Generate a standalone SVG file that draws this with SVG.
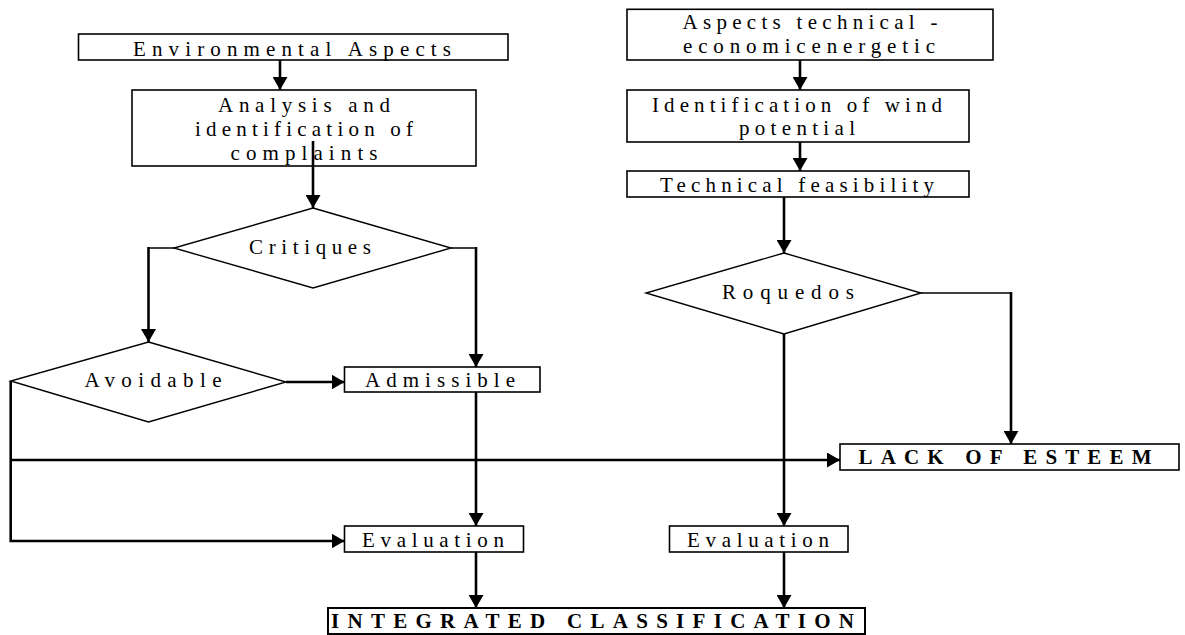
<svg xmlns="http://www.w3.org/2000/svg" width="1185" height="635" viewBox="0 0 1185 635">
<style>
.box{fill:#fff;stroke:#000;stroke-width:1.6}
.dia{fill:#fff;stroke:#000;stroke-width:1.4}
.t{font-family:'Liberation Serif','Times New Roman','DejaVu Serif',serif;font-size:21px;fill:#000;text-anchor:middle}
.b{font-weight:bold}
.c{fill:none;stroke:#000;stroke-width:2.6}
.thin{fill:none;stroke:#000;stroke-width:1.5}
</style>
<defs>
<marker id="ah" markerUnits="userSpaceOnUse" markerWidth="15" markerHeight="15" refX="13" refY="7.5" orient="auto">
<path d="M0,0 L13,7.5 L0,15 z" fill="#000"/>
</marker>
</defs>
<rect width="1185" height="635" fill="#fff"/>

<g id="connectors">
<line class="c" x1="280" y1="60" x2="280" y2="90" marker-end="url(#ah)"/>
<line class="c" x1="313" y1="141" x2="313" y2="208" marker-end="url(#ah)"/>
<polyline class="thin" points="174,248 148.5,248"/>
<line class="c" x1="148.5" y1="247" x2="148.5" y2="342" marker-end="url(#ah)"/>
<polyline class="thin" points="451,248 476,248"/>
<line class="c" x1="476" y1="247" x2="476" y2="367" marker-end="url(#ah)"/>
<line class="c" x1="286" y1="382" x2="344.5" y2="382" marker-end="url(#ah)"/>
<line class="c" x1="476" y1="392" x2="476" y2="526" marker-end="url(#ah)"/>
<line class="c" x1="10.7" y1="460" x2="840" y2="460" marker-end="url(#ah)"/>
<polyline class="c" points="10.7,381 10.7,541 344.5,541" marker-end="url(#ah)"/>
<line class="c" x1="476" y1="552" x2="476" y2="608" marker-end="url(#ah)"/>
<line class="c" x1="800" y1="60" x2="800" y2="90" marker-end="url(#ah)"/>
<line class="c" x1="800" y1="142" x2="800" y2="171" marker-end="url(#ah)"/>
<line class="c" x1="784" y1="197" x2="784" y2="253" marker-end="url(#ah)"/>
<polyline class="thin" points="921,293 1011,293"/>
<line class="c" x1="1011" y1="292" x2="1011" y2="444" marker-end="url(#ah)"/>
<line class="c" x1="784" y1="334" x2="784" y2="526" marker-end="url(#ah)"/>
<line class="c" x1="784" y1="552" x2="784" y2="608" marker-end="url(#ah)"/>
</g>

<g id="env">
<rect class="box" x="78.5" y="34" width="429.5" height="26"/>
<text class="t" x="292" y="56" textLength="318" lengthAdjust="spacing">Environmental Aspects</text>
</g>
<g id="analysis">
<rect class="box" x="132" y="90" width="344" height="76"/>
<text class="t" x="304" y="112" textLength="172" lengthAdjust="spacing">Analysis and</text>
<text class="t" x="304" y="136" textLength="218" lengthAdjust="spacing">identification of</text>
<text class="t" x="304" y="160" textLength="147" lengthAdjust="spacing">complaints</text>
</g>
<line class="c" x1="313" y1="141" x2="313" y2="166"/>
<g id="critiques">
<polygon class="dia" points="313,208 451,248 313,288 174,248"/>
<text class="t" x="310" y="254" textLength="122" lengthAdjust="spacing">Critiques</text>
</g>
<g id="avoidable">
<polygon class="dia" points="148.5,342 286,382 148.5,422 10.7,381"/>
<text class="t" x="153" y="387" textLength="137" lengthAdjust="spacing">Avoidable</text>
</g>
<g id="admissible">
<rect class="box" x="344.5" y="367" width="195.5" height="25"/>
<text class="t" x="440" y="387" textLength="150" lengthAdjust="spacing">Admissible</text>
</g>
<g id="evaluation1">
<rect class="box" x="344.5" y="526" width="179" height="26"/>
<text class="t" x="433" y="547" textLength="142" lengthAdjust="spacing">Evaluation</text>
</g>
<g id="integrated">
<rect class="box" x="328" y="608" width="537" height="26" style="stroke-width:2"/>
<text class="t b" x="592.5" y="628" textLength="523" lengthAdjust="spacing">INTEGRATED CLASSIFICATION</text>
</g>
<g id="aspects">
<rect class="box" x="627" y="9.3" width="366" height="50.7"/>
<text class="t" x="810" y="29" textLength="255" lengthAdjust="spacing">Aspects technical -</text>
<text class="t" x="809" y="53" textLength="252" lengthAdjust="spacing">economicenergetic</text>
</g>
<g id="identification">
<rect class="box" x="627" y="90" width="342" height="52"/>
<text class="t" x="797" y="112" textLength="290" lengthAdjust="spacing">Identification of wind</text>
<text class="t" x="797" y="135" textLength="116" lengthAdjust="spacing">potential</text>
</g>
<g id="feasibility">
<rect class="box" x="627" y="171" width="342" height="26"/>
<text class="t" x="797" y="192" textLength="274" lengthAdjust="spacing">Technical feasibility</text>
</g>
<g id="roquedos">
<polygon class="dia" points="784,253 921,293 784,334 646,293"/>
<text class="t" x="788" y="299" textLength="132" lengthAdjust="spacing">Roquedos</text>
</g>
<g id="evaluation2">
<rect class="box" x="669.5" y="526" width="178.5" height="26"/>
<text class="t" x="758" y="547" textLength="142" lengthAdjust="spacing">Evaluation</text>
</g>
<g id="lack">
<rect class="box" x="840" y="444" width="339" height="26"/>
<text class="t b" x="1005" y="464" textLength="293" lengthAdjust="spacing">LACK OF ESTEEM</text>
</g>
</svg>
